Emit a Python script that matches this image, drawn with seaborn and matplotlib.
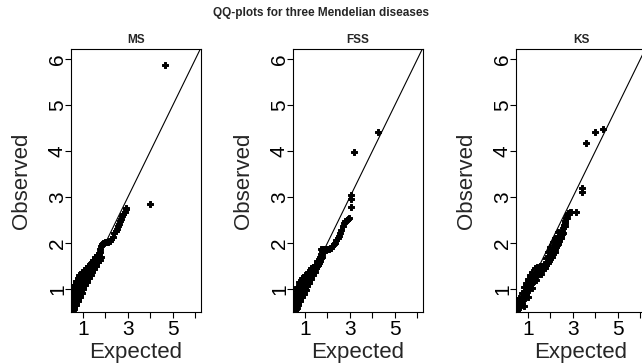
import matplotlib
matplotlib.use("Agg")
import matplotlib.pyplot as plt
import seaborn as sns

# values (expected vs observed -log10 p)
# main trace of each panel, incl. the outliers at the end
ms_exp = [0.47, 0.49, 0.51, 0.53, 0.55, 0.57, 0.59, 0.61, 0.63, 0.66,
          0.69, 0.72, 0.75, 0.79, 0.83, 0.87, 0.91, 0.96, 1.01, 1.06,
          1.11, 1.17, 1.23, 1.29, 1.35, 1.41, 1.47, 1.53, 1.59, 1.65,
          1.71, 1.76, 1.80, 1.84, 1.88, 1.93, 1.99, 2.06, 2.13, 2.20,
          2.27, 2.33, 2.39, 2.45, 2.50, 2.55, 2.60, 2.65, 2.70, 2.75,
          2.80, 2.85, 2.90, 2.93, 3.98, 4.64]
ms_obs = [0.52, 0.57, 0.62, 0.67, 0.73, 0.79, 0.85, 0.91, 0.96, 1.03,
          1.09, 1.14, 1.18, 1.22, 1.26, 1.29, 1.31, 1.33, 1.35, 1.38,
          1.41, 1.45, 1.48, 1.51, 1.54, 1.58, 1.62, 1.65, 1.68, 1.71,
          1.78, 1.86, 1.93, 1.98, 2.00, 2.01, 2.02, 2.02, 2.03, 2.04,
          2.08, 2.14, 2.21, 2.27, 2.31, 2.36, 2.42, 2.48, 2.52, 2.58,
          2.63, 2.68, 2.73, 2.76, 2.84, 5.87]
# extra points filling the dense band at the low end (edges + inside)
ms_band_exp = [0.45, 0.47, 0.49, 0.52, 0.56, 0.61, 0.68, 0.76, 0.84, 0.94,
               1.04, 1.13, 1.24, 1.34, 1.44, 1.54, 1.64, 1.74,
               0.58, 0.66, 0.74, 0.82, 0.92, 1.02, 1.12, 1.22, 1.32, 1.42,
               1.52, 1.62, 1.72,
               0.60, 0.68, 0.76, 0.84, 0.92, 1.00, 1.08, 1.16, 1.24, 1.32,
               1.40, 1.48, 1.56, 1.64, 1.72,
               0.54, 0.62, 0.70, 0.78, 0.86, 0.94, 1.02, 1.10, 1.18, 1.26,
               1.34, 1.42, 1.50, 1.58, 1.66, 1.74, 1.82]
ms_band_obs = [0.55, 0.65, 0.78, 0.88, 0.98, 1.08, 1.17, 1.24, 1.30, 1.36,
               1.40, 1.45, 1.51, 1.57, 1.63, 1.69, 1.74, 1.81,
               0.62, 0.78, 0.92, 1.03, 1.13, 1.21, 1.28, 1.35, 1.42, 1.49,
               1.56, 1.62, 1.70,
               0.56, 0.68, 0.80, 0.90, 1.00, 1.08, 1.16, 1.23, 1.30, 1.36,
               1.42, 1.48, 1.54, 1.60, 1.66,
               0.50, 0.58, 0.66, 0.74, 0.82, 0.91, 1.00, 1.08, 1.16, 1.24,
               1.31, 1.37, 1.44, 1.51, 1.58, 1.64, 1.70]

fss_exp = [0.47, 0.49, 0.51, 0.53, 0.55, 0.57, 0.59, 0.62, 0.65, 0.68,
           0.71, 0.75, 0.79, 0.83, 0.88, 0.93, 0.98, 1.04, 1.10, 1.16,
           1.22, 1.28, 1.34, 1.40, 1.46, 1.52, 1.58, 1.63, 1.67, 1.71,
           1.75, 1.80, 1.86, 1.93, 2.00, 2.07, 2.14, 2.21, 2.28, 2.34,
           2.40, 2.46, 2.51, 2.56, 2.62, 2.68, 2.74, 2.80, 2.86, 2.91,
           2.96, 3.03, 3.05, 3.06, 3.16, 4.23]
fss_obs = [0.51, 0.55, 0.59, 0.63, 0.67, 0.71, 0.75, 0.82, 0.90, 0.97,
           1.02, 1.07, 1.11, 1.15, 1.19, 1.23, 1.26, 1.29, 1.32, 1.35,
           1.38, 1.41, 1.44, 1.48, 1.53, 1.56, 1.58, 1.61, 1.67, 1.76,
           1.83, 1.86, 1.87, 1.88, 1.88, 1.88, 1.90, 1.93, 1.97, 2.01,
           2.06, 2.10, 2.15, 2.22, 2.29, 2.36, 2.43, 2.47, 2.50, 2.52,
           2.54, 2.78, 2.95, 3.05, 3.98, 4.41]
fss_band_exp = [0.47, 0.50, 0.53, 0.58, 0.65, 0.75, 0.87, 1.00, 1.13, 1.28,
                1.43, 1.55, 1.65, 1.73,
                0.58, 0.66, 0.74, 0.84, 0.94, 1.04, 1.14, 1.24, 1.34, 1.44,
                1.54, 1.64, 1.72,
                0.60, 0.68, 0.76, 0.84, 0.92, 1.00, 1.08, 1.16, 1.24, 1.32,
                1.40, 1.48, 1.56, 1.64,
                0.55, 0.63, 0.71, 0.79, 0.87, 0.95, 1.03, 1.11, 1.19, 1.27,
                1.35, 1.43, 1.51, 1.59, 1.67, 1.75, 1.83]
fss_band_obs = [0.54, 0.68, 0.83, 0.95, 1.05, 1.15, 1.23, 1.31, 1.38, 1.45,
                1.52, 1.60, 1.70, 1.88,
                0.62, 0.76, 0.90, 1.02, 1.10, 1.17, 1.24, 1.30, 1.37, 1.44,
                1.50, 1.57, 1.68,
                0.56, 0.68, 0.79, 0.89, 0.98, 1.06, 1.13, 1.20, 1.27, 1.34,
                1.40, 1.46, 1.52, 1.58,
                0.50, 0.58, 0.66, 0.74, 0.82, 0.90, 0.98, 1.06, 1.14, 1.22,
                1.30, 1.38, 1.45, 1.52, 1.60, 1.70, 1.80]

ks_exp = [0.50, 0.53, 0.56, 0.59, 0.62, 0.65, 0.69, 0.72, 0.76, 0.79,
          0.83, 0.87, 0.90, 0.94, 0.98, 1.02, 1.06, 1.09, 1.13, 1.17,
          1.20, 1.23, 1.27, 1.31, 1.35, 1.38, 1.42, 1.45, 1.50, 1.55,
          1.60, 1.65, 1.70, 1.75, 1.82, 1.89, 1.93, 1.97, 2.00, 2.04,
          2.08, 2.11, 2.17, 2.23, 2.28, 2.33, 2.37, 2.41, 2.45, 2.48,
          2.52, 2.55, 2.59, 2.63, 2.67, 2.70, 2.74, 2.77, 2.85, 2.92,
          3.14, 3.42, 3.42, 3.58, 3.97, 4.34]
ks_obs = [0.51, 0.54, 0.57, 0.60, 0.62, 0.65, 0.69, 0.73, 0.77, 0.80,
          0.84, 0.87, 0.90, 0.94, 0.97, 1.01, 1.04, 1.07, 1.10, 1.14,
          1.16, 1.19, 1.24, 1.27, 1.31, 1.34, 1.38, 1.41, 1.42, 1.43,
          1.45, 1.46, 1.47, 1.48, 1.52, 1.56, 1.62, 1.67, 1.70, 1.74,
          1.78, 1.81, 1.87, 1.92, 1.96, 1.99, 2.05, 2.10, 2.16, 2.21,
          2.27, 2.32, 2.37, 2.43, 2.49, 2.54, 2.60, 2.65, 2.67, 2.68,
          2.68, 3.10, 3.20, 4.17, 4.41, 4.47]
ks_band_exp = [0.43, 0.53, 0.62, 0.72, 0.82, 0.92, 1.01, 1.10, 1.20, 1.30,
               1.40, 1.55, 1.70, 1.80, 1.89, 2.00, 2.10, 2.20, 2.33,
               0.62, 0.82, 1.01, 1.20, 1.40, 1.60, 1.82, 2.00, 2.20, 2.40, 2.60,
               0.72, 0.91, 1.10, 1.29, 1.48, 1.68, 1.86, 2.03, 2.20, 2.37,
               2.50, 2.62,
               0.82, 1.01, 1.20, 1.38, 1.56, 1.75, 1.90, 2.05, 2.19, 2.33,
               2.45, 2.55, 2.65, 2.75]
ks_band_obs = [0.58, 0.70, 0.80, 0.92, 1.04, 1.14, 1.22, 1.30, 1.38, 1.45,
               1.48, 1.50, 1.55, 1.68, 1.81, 1.92, 2.03, 2.12, 2.25,
               0.70, 0.90, 1.06, 1.22, 1.33, 1.42, 1.55, 1.75, 1.95, 2.15, 2.40,
               0.68, 0.88, 1.04, 1.20, 1.33, 1.44, 1.56, 1.72, 1.88, 2.06,
               2.20, 2.36,
               0.62, 0.83, 1.02, 1.20, 1.33, 1.45, 1.58, 1.70, 1.81, 1.98,
               2.12, 2.21, 2.38, 2.55]

panels = [("MS", ms_exp + ms_band_exp, ms_obs + ms_band_obs),
          ("FSS", fss_exp + fss_band_exp, fss_obs + fss_band_obs),
          ("KS", ks_exp + ks_band_exp, ks_obs + ks_band_obs)]
tick_vals = [1, 2, 3, 4, 5, 6]
xtick_labels = ["1", "", "3", "", "5", ""]
ytick_labels = ["1", "2", "3", "4", "5", "6"]

sns.set_style("ticks")
plt.rcParams['font.family'] = ['Liberation Sans', 'DejaVu Sans']

fig = plt.figure(figsize=(6.42, 3.64), dpi=100)
lefts = [71 / 642, 293 / 642, 516 / 642]  # panel left edges, px / width

for left, (name, xs, ys) in zip(lefts, panels):
    ax = fig.add_axes([left, 1 - 312 / 364, 130 / 642, 263 / 364])
    sns.scatterplot(x=xs, y=ys, ax=ax, marker='P', s=14, color='black',
                    edgecolor='black', linewidth=0.7)
    ax.axline((0, 0), slope=1, color='black', lw=0.8)
    ax.set_xlim(0.47, 6.25)
    ax.set_ylim(0.5, 6.22)
    ax.set_xticks(tick_vals)
    ax.set_xticklabels(xtick_labels)
    ax.set_yticks(tick_vals)
    ax.set_yticklabels(ytick_labels, rotation=90, va='center', ha='center')
    ax.tick_params(direction='out', length=4.3, width=0.8, labelsize=15, colors='black')
    ax.tick_params(axis='x', pad=1.5)
    ax.tick_params(axis='y', pad=5.5)
    for sp in ax.spines.values():
        sp.set_linewidth(0.8)
        sp.set_color('black')
    ax.set_xlabel("Expected", fontsize=16)
    ax.set_ylabel("Observed", fontsize=16)
    ax.xaxis.set_label_coords(0.5, -0.115)
    ax.yaxis.set_label_coords(-0.30, 0.5)
    ax.text(0.5, 1.035, name, transform=ax.transAxes, ha='center', va='center',
            fontsize=8.5, fontweight='bold')

fig.text(0.5, 1 - 13 / 364, "QQ-plots for three Mendelian diseases", ha='center', va='center',
         fontsize=8.5, fontweight='bold')

fig.savefig("out.png", dpi=100)
